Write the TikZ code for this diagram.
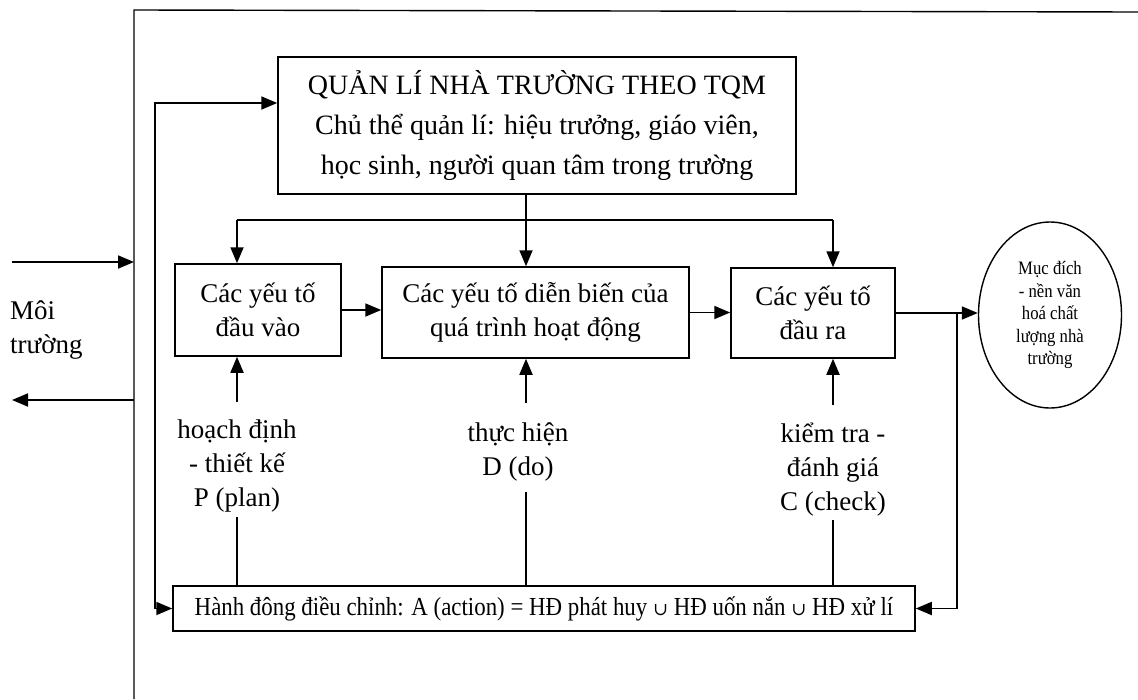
\documentclass[tikz,border=0pt]{standalone}
\usepackage{fontspec}
\setmainfont{Liberation Serif}
\newfontfamily\condfont[FakeStretch=0.88]{Liberation Serif}
\newfontfamily\symfnt{DejaVu Serif}
\newcommand{\cupsym}{{\symfnt\fontsize{18}{20}\selectfont ∪}}
\usetikzlibrary{arrows.meta,shapes.geometric}
\begin{document}
\begin{tikzpicture}[x=1pt,y=-1pt,
  box/.style={draw, line width=1.5pt, align=center, inner sep=0pt, font=\fontsize{27}{34}\selectfont},
  arr/.style={line width=1.8pt, -{Triangle[length=16pt,width=13pt]}},
  arrboth/.style={line width=1.8pt, {Triangle[length=16pt,width=13pt]}-{Triangle[length=16pt,width=13pt]}},
  ln/.style={line width=1.8pt},
  thinln/.style={line width=1.1pt},
  frame/.style={line width=1.4pt},
  lbl/.style={align=center, inner sep=0pt, font=\fontsize{27}{34}\selectfont}
]
\useasboundingbox (0,0) rectangle (1138,699);
% frame
\draw[frame] (134,699) -- (134,10) -- (1138,12);
\coordinate (fx) at (134,0);
% nodes
\node[box, minimum width=518pt, minimum height=137pt, font=\fontsize{28}{40}\selectfont] (top) at (537,125.5)
  {QUẢN LÍ NHÀ TRƯỜNG THEO TQM\\Chủ thể quản lí: hiệu trưởng, giáo viên,\\học sinh, người quan tâm trong trường};
\node[box, minimum width=166pt, minimum height=92pt] (inbox) at (258,310) {Các yếu tố\\đầu vào};
\node[box, minimum width=307pt, minimum height=91pt] (proc) at (535.5,312.5) {Các yếu tố diễn biến của\\quá trình hoạt động};
\node[box, minimum width=164pt, minimum height=90pt] (outbox) at (813,313) {Các yếu tố\\đầu ra};
\node[draw, ellipse, line width=1.4pt, minimum width=143pt, minimum height=186pt, inner sep=0pt, align=center,
  font=\condfont\fontsize{19}{22.5}\selectfont] (goal) at (1050,315)
  {Mục đích\\- nền văn\\hoá chất\\lượng nhà\\trường};
\node[box, minimum width=742pt, minimum height=45pt, font=\condfont\fontsize{26}{30}\selectfont] (act) at (544,608.5)
  {Hành đông điều chỉnh: A (action) = HĐ phát huy \cupsym{} HĐ uốn nắn \cupsym{} HĐ xử lí};
\node[lbl] (lp) at (237,466) {hoạch định\\- thiết kế\\P (plan)};
\node[lbl] (ld) at (518,452) {thực hiện\\D (do)};
\node[lbl] (lc) at (833,470) {kiểm tra -\\đánh giá\\C (check)};
\node[lbl, align=left, anchor=west] (env) at (10,330) {Môi\\trường};
% distribution from top box
\coordinate (j1) at (237,220);
\coordinate (j2) at (526,220);
\coordinate (j3) at (833,220);
\draw[ln] (top.south -| j2) -- (j2);
\draw[ln] (j1) -- (j3);
\draw[arr] (j1) -- (j1 |- inbox.north);
\draw[arr] (j2) -- (j2 |- proc.north);
\draw[arr] (j3) -- (j3 |- outbox.north);
% horizontal flow
\draw[arr] (inbox.east) -- (inbox.east -| proc.west);
\draw[arr] (proc.east) -- (proc.east -| outbox.west);
\draw[arr] (outbox.east) -- (outbox.east -| goal.west);
% right feedback
\coordinate (r) at (957,313);
\draw[arr] (r) -- (r |- act.east) -- (act.east);
% left feedback
\coordinate (L) at (155,103);
\draw[arrboth] (act.west) -- (L |- act.west) -- (L) -- (L -| top.west);
% bottom label connectors
\coordinate (p1) at (237,402);
\coordinate (p2) at (237,517);
\draw[arr] (p1) -- (p1 |- inbox.south);
\draw[thinln] (p2) -- (p2 |- act.north);
\coordinate (d1) at (526,403);
\coordinate (d2) at (526,492);
\draw[arr] (d1) -- (d1 |- proc.south);
\draw[thinln] (d2) -- (d2 |- act.north);
\coordinate (c1) at (833,405);
\coordinate (c2) at (833,520);
\draw[arr] (c1) -- (c1 |- outbox.south);
\draw[thinln] (c2) -- (c2 |- act.north);
% environment arrows
\coordinate (e1) at (12,262);
\coordinate (e2) at (12,400);
\draw[arr] (e1) -- (e1 -| fx);
\draw[arr] (e2 -| fx) -- (e2);
\end{tikzpicture}
\end{document}
